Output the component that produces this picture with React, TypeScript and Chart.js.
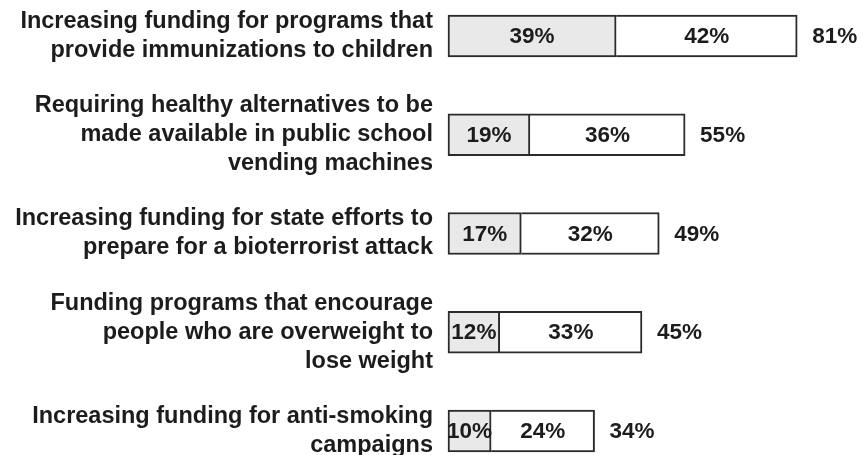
import React, { useEffect, useRef } from "react";
import { Chart, registerables } from "chart.js";

Chart.register(...registerables);

const categories: string[][] = [
  ["Increasing funding for programs that", "provide immunizations to children"],
  ["Requiring healthy alternatives to be", "made available in public school", "vending machines"],
  ["Increasing funding for state efforts to", "prepare for a bioterrorist attack"],
  ["Funding programs that encourage", "people who are overweight to", "lose weight"],
  ["Increasing funding for anti-smoking", "campaigns"],
];
const firstSeries: number[] = [39, 19, 17, 12, 10];
const secondSeries: number[] = [42, 36, 32, 33, 24];
const totals: number[] = [81, 55, 49, 45, 34];

const FONT = "'Liberation Sans', Arial, Helvetica, sans-serif";
const TEXT = "#1c1c1c";

const labelsPlugin = {
  id: "valueLabels",
  afterDatasetsDraw(chart: any) {
    const ctx = chart.ctx;
    ctx.save();
    ctx.font = `bold 22.5px ${FONT}`;
    ctx.fillStyle = TEXT;
    ctx.textBaseline = "middle";
    chart.data.datasets.forEach((ds: any, di: number) => {
      const meta = chart.getDatasetMeta(di);
      meta.data.forEach((el: any, i: number) => {
        const c = el.getCenterPoint();
        ctx.textAlign = "center";
        ctx.fillText(`${ds.data[i]}%`, c.x, c.y + 1);
      });
    });
    const last = chart.getDatasetMeta(chart.data.datasets.length - 1);
    last.data.forEach((el: any, i: number) => {
      ctx.textAlign = "left";
      ctx.fillText(`${totals[i]}%`, el.x + 15, el.y + 1);
    });
    ctx.restore();
  },
};

export default function App() {
  const ref = useRef<HTMLCanvasElement | null>(null);
  useEffect(() => {
    if (!ref.current) return;
    const chart = new Chart(ref.current, {
      type: "bar",
      data: {
        labels: categories as any,
        datasets: [
          {
            label: "First",
            data: firstSeries,
            backgroundColor: "#e9e9e9",
            borderColor: "#2b2b2b",
            borderWidth: 2,
            borderSkipped: false,
            barThickness: 42,
            clip: false as any,
          },
          {
            label: "Second",
            data: secondSeries,
            backgroundColor: "#ffffff",
            borderColor: "#2b2b2b",
            borderWidth: 2,
            borderSkipped: "start",
            barThickness: 42,
            clip: false as any,
          },
        ],
      },
      options: {
        indexAxis: "y",
        animation: false,
        responsive: true,
        maintainAspectRatio: false,
        layout: { padding: { top: 36, bottom: 24, left: 0, right: 27 } },
        plugins: {
          legend: { display: false },
          tooltip: { enabled: false },
        },
        scales: {
          x: {
            stacked: true,
            min: 0,
            max: 90,
            display: false,
          },
          y: {
            stacked: true,
            offset: false,
            grid: { display: false, drawTicks: false },
            border: { display: false },
            ticks: {
              padding: 15,
              color: TEXT,
              font: { family: FONT, size: 23.5, weight: "bold", lineHeight: 1.234 },
            },
            afterFit(scale: any) {
              scale.width = 448;
              scale.paddingTop = 0;
              scale.paddingBottom = 0;
            },
          },
        },
      },
      plugins: [labelsPlugin],
    });
    return () => chart.destroy();
  }, []);
  return (
    <div style={{ position: "absolute", left: 0, top: 0, width: 863, height: 455, background: "#fff" }}>
      <canvas ref={ref} />
    </div>
  );
}
